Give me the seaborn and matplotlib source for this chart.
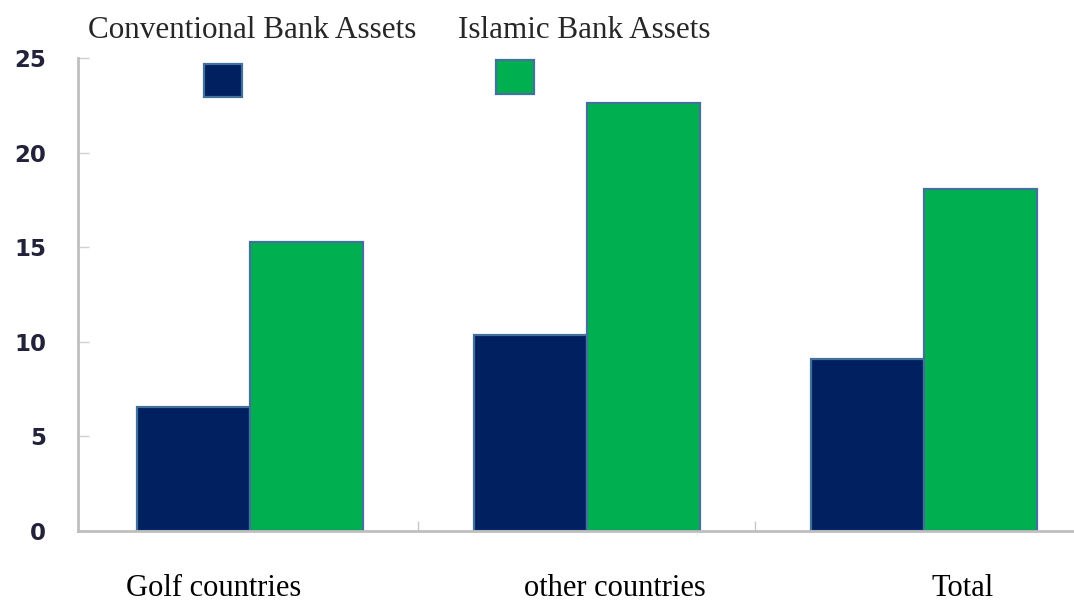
import pandas as pd
import numpy as np
import matplotlib.pyplot as plt
import matplotlib.patches as mpatches
import seaborn as sns

# data
categories = ['Golf countries', 'other countries', 'Total']
series_names = ['Conventional Bank Assets', 'Islamic Bank Assets']
conventional = [6.55, 10.35, 9.1]
islamic = [15.25, 22.6, 18.1]
y_ticks = [0, 5, 10, 15, 20, 25]

df = pd.DataFrame({
    'region': categories * 2,
    'series': [series_names[0]] * 3 + [series_names[1]] * 3,
    'value': conventional + islamic,
})

navy = '#002060'
green = '#00b050'
edge = '#41719c'

sns.set_theme(style='white')
plt.rcParams['font.family'] = ['DejaVu Sans']

fig = plt.figure(figsize=(10.74, 6.05), dpi=100)
ax = fig.add_axes([78 / 1074, 74 / 605, 996 / 1074, 473 / 605])

sns.barplot(data=df, x='region', y='value', hue='series', order=categories,
            hue_order=series_names, palette=[navy, green], width=0.67,
            edgecolor=edge, linewidth=1.6, legend=False, ax=ax, saturation=1)

ax.set_xlim(-0.51, 2.445)
ax.set_ylim(0, 25)
ax.set_xlabel('')
ax.set_ylabel('')

# spines
for s in ['top', 'right']:
    ax.spines[s].set_visible(False)
for s in ['left', 'bottom']:
    ax.spines[s].set_color('#bfbfbf')
    ax.spines[s].set_linewidth(2)

ax.set_yticks(y_ticks)
ax.set_yticklabels([str(t) for t in y_ticks], fontsize=16.5, fontweight='bold',
                   color='#22223a')
ax.tick_params(axis='y', direction='in', length=8, width=1, color='#d0d0d0',
               pad=23, left=True)

# x labels sit a bit off the group centres in the reference
ax.set_xticks([-0.107, 1.083, 2.116])
ax.set_xticklabels(categories, fontsize=22, family='Liberation Serif',
                   color='black')
ax.tick_params(axis='x', length=0, pad=31)
ax.set_xticks([0.5, 1.5], minor=True)
ax.tick_params(axis='x', which='minor', direction='in', length=7, width=1,
               color='#c8c8c8', bottom=True)

# legend: labels above the axes, swatches inside
fig.text(88 / 1074, 1 - 30 / 605, series_names[0], family='Liberation Serif',
         fontsize=22.4, va='center', ha='left')
fig.text(458 / 1074, 1 - 30 / 605, series_names[1], family='Liberation Serif',
         fontsize=22.4, va='center', ha='left')
fig.patches.append(mpatches.Rectangle((204 / 1074, 1 - 97 / 605), 38 / 1074, 33 / 605,
                                      transform=fig.transFigure, facecolor=navy,
                                      edgecolor=edge, linewidth=1.6))
fig.patches.append(mpatches.Rectangle((496 / 1074, 1 - 94 / 605), 38 / 1074, 34 / 605,
                                      transform=fig.transFigure, facecolor=green,
                                      edgecolor=edge, linewidth=1.6))

fig.savefig('out.png', dpi=100)
